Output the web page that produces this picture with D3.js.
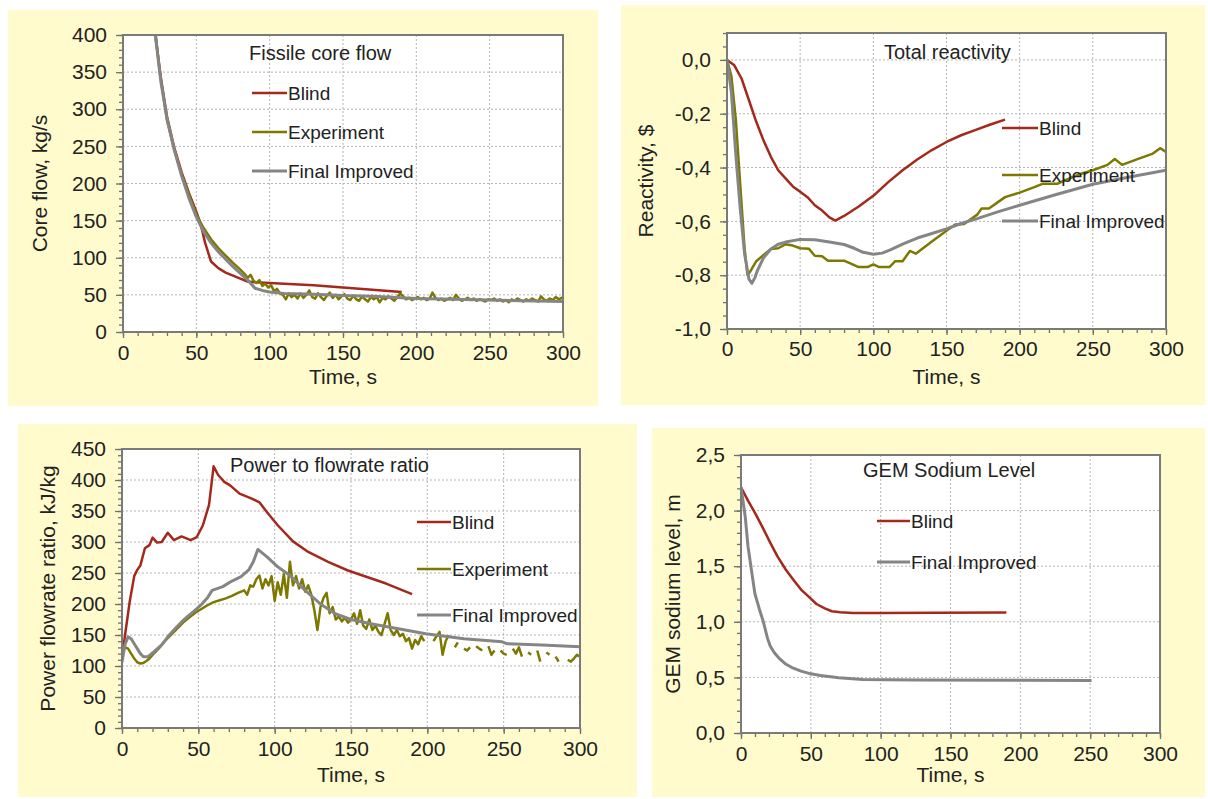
<!DOCTYPE html>
<html>
<head>
<meta charset="utf-8">
<script src="https://cdn.jsdelivr.net/npm/d3@7"></script>
<style>
  body { margin: 0; background: #fff; }
  svg { display: block; font-family: "Liberation Sans", Arial, sans-serif; }
  .tick text { fill: #222; }
</style>
</head>
<body>
<svg width="1208" height="799"></svg>
<script>
// ---- data: [time s, value] ----

// Fissile core flow, kg/s
const flowBlind = [[20, 445], [22, 400], [26, 340], [30, 290], [35, 248], [40, 215], [45, 187], [50, 162], [53, 145], [56, 120], [60, 95], [65, 86], [70, 80], [75, 76], [80, 72], [85, 68], [90, 67], [100, 66], [120, 64], [130, 63], [150, 60], [170, 57], [190, 54]];
const flowExp = [[20, 445], [25, 350], [30, 285], [35, 245], [40, 212], [45, 185], [50, 158], [55, 140], [60, 125], [65, 113], [70, 103], [75, 93], [80, 84], [83, 78], [85, 73], [87, 77], [89, 69], [91, 66], [93, 70], [95, 62], [97, 65], [99, 60], [101, 63], [103, 55], [105, 58], [107, 52], [109, 50], [111, 44], [113, 52], [115, 47], [117, 50], [119, 45], [121, 52], [123, 46], [125, 50], [127, 56], [129, 47], [131, 45], [133, 52], [135, 47], [137, 43], [139, 49], [141, 53], [143, 46], [145, 50], [147, 44], [149, 48], [151, 51], [153, 45], [155, 43], [157, 49], [159, 44], [161, 42], [163, 48], [165, 44], [167, 41], [169, 47], [171, 44], [173, 47], [175, 40], [177, 46], [179, 44], [181, 48], [183, 45], [185, 42], [187, 47], [189, 52], [191, 48], [193, 44], [195, 46], [197, 43], [199, 45], [201, 47], [203, 44], [205, 46], [207, 43], [209, 45], [211, 53], [213, 46], [215, 43], [217, 45], [219, 42], [221, 44], [223, 46], [225, 43], [227, 50], [229, 45], [231, 42], [233, 44], [235, 46], [237, 43], [239, 45], [241, 42], [243, 44], [245, 43], [247, 41], [249, 44], [251, 43], [253, 45], [255, 42], [257, 44], [259, 41], [261, 43], [263, 40], [265, 44], [267, 42], [269, 45], [271, 43], [273, 41], [275, 44], [277, 42], [279, 45], [281, 43], [283, 41], [285, 48], [287, 44], [289, 42], [291, 45], [293, 43], [295, 47], [297, 44], [299, 46], [300, 45]];
const flowFinal = [[20, 445], [22, 400], [26, 335], [30, 288], [35, 245], [40, 210], [45, 180], [50, 155], [55, 135], [60, 120], [65, 108], [70, 98], [75, 88], [80, 79], [85, 70], [90, 59], [95, 56], [100, 54], [110, 52], [130, 51], [150, 49], [170, 48], [200, 45], [250, 43], [300, 41]];

// Total reactivity, $
const reactBlind = [[0, 0], [5, -0.02], [10, -0.07], [15, -0.15], [20, -0.23], [25, -0.3], [30, -0.36], [35, -0.41], [40, -0.44], [45, -0.47], [50, -0.49], [55, -0.51], [60, -0.54], [65, -0.56], [70, -0.585], [74, -0.597], [80, -0.58], [90, -0.545], [100, -0.505], [110, -0.455], [120, -0.41], [130, -0.37], [140, -0.335], [150, -0.305], [160, -0.28], [170, -0.26], [180, -0.24], [190, -0.222]];
const reactExp = [[0, 0], [3, -0.06], [6, -0.22], [9, -0.46], [12, -0.7], [14, -0.8], [16, -0.785], [20, -0.748], [25, -0.725], [30, -0.703], [35, -0.7], [40, -0.685], [45, -0.69], [50, -0.7], [56, -0.702], [60, -0.728], [65, -0.73], [69, -0.746], [80, -0.746], [90, -0.77], [96, -0.77], [100, -0.76], [104, -0.77], [111, -0.77], [115, -0.748], [120, -0.748], [125, -0.71], [129, -0.72], [140, -0.675], [150, -0.635], [156, -0.612], [162, -0.61], [171, -0.575], [174, -0.552], [179, -0.552], [190, -0.51], [200, -0.493], [210, -0.473], [216, -0.46], [226, -0.46], [234, -0.44], [242, -0.423], [250, -0.41], [260, -0.39], [265, -0.368], [270, -0.39], [281, -0.368], [291, -0.348], [296, -0.328], [300, -0.342]];
const reactFinal = [[0, 0], [3, -0.12], [6, -0.35], [9, -0.55], [12, -0.72], [15, -0.815], [17, -0.83], [19, -0.81], [21, -0.78], [25, -0.735], [30, -0.703], [35, -0.685], [40, -0.677], [50, -0.667], [60, -0.668], [70, -0.677], [80, -0.686], [87, -0.7], [93, -0.715], [100, -0.722], [106, -0.718], [112, -0.705], [120, -0.685], [130, -0.662], [140, -0.645], [150, -0.628], [160, -0.608], [171, -0.59], [185, -0.565], [200, -0.54], [225, -0.5], [250, -0.462], [275, -0.435], [300, -0.41]];

// Power to flowrate ratio, kJ/kg
const ratioBlind = [[0, 112], [2, 150], [5, 203], [8, 245], [10, 255], [12, 262], [15, 290], [18, 295], [20, 307], [23, 299], [26, 300], [30, 315], [34, 303], [39, 309], [45, 303], [49, 308], [53, 327], [57, 360], [60, 422], [63, 408], [67, 397], [71, 391], [77, 378], [85, 370], [90, 364], [95, 348], [102, 327], [112, 301], [122, 284], [135, 268], [148, 254], [160, 244], [173, 233], [190, 216]];
const ratioExp = [[0, 118], [2, 130], [4, 128], [6, 120], [8, 112], [10, 106], [12, 104], [14, 105], [16, 108], [18, 112], [20, 118], [24, 128], [28, 140], [32, 150], [36, 160], [40, 170], [44, 178], [48, 186], [52, 192], [56, 198], [60, 203], [64, 206], [68, 209], [72, 213], [76, 218], [80, 222], [82, 215], [84, 230], [86, 228], [88, 240], [90, 246], [92, 225], [94, 240], [96, 230], [98, 245], [100, 205], [102, 235], [104, 215], [106, 248], [108, 210], [110, 268], [112, 230], [114, 245], [116, 225], [118, 240], [120, 220], [122, 230], [124, 215], [126, 190], [128, 158], [130, 195], [132, 210], [134, 218], [136, 185], [138, 195], [140, 175], [142, 180], [144, 172], [146, 178], [148, 170], [150, 175], [152, 185], [154, 168], [156, 190], [158, 165], [160, 160], [162, 175], [164, 158], [166, 165], [168, 155], [170, 150], [172, 168], [174, 185], [176, 158], [178, 150], [180, 158], [182, 148], [184, 152], [186, 140], [188, 145], [190, 128], [192, 142], [194, 135], [196, 148], [198, 140], [200, null], [204, 140], [206, 148], [208, 155], [210, 118], [212, 140], [214, 150], [216, null], [218, 130], [220, 138], [222, null], [224, 128], [226, 125], [228, 130], [230, null], [232, 132], [234, 128], [236, 125], [238, null], [240, 132], [242, 118], [244, 125], [246, null], [248, 125], [250, 120], [252, 118], [254, null], [256, 128], [258, 120], [260, 130], [262, 115], [264, null], [266, 122], [268, 118], [270, null], [272, 125], [274, 107], [276, null], [278, 122], [280, 118], [282, null], [284, 115], [286, 107], [288, null], [292, 110], [294, 107], [296, 112], [298, 118], [300, 115]];
const ratioFinal = [[0, 106], [2, 135], [4, 147], [6, 144], [8, 136], [10, 128], [12, 120], [14, 115], [17, 115], [21, 123], [26, 134], [31, 150], [35, 161], [39, 171], [43, 180], [47, 188], [52, 199], [56, 210], [59, 222], [66, 228], [72, 237], [78, 244], [83, 255], [86, 268], [89, 288], [95, 276], [102, 260], [110, 246], [120, 222], [130, 200], [140, 184], [150, 175], [163, 168], [181, 160], [199, 152], [224, 144], [249, 139], [252, 136], [275, 134], [300, 131]];

// GEM sodium level, m
const levelBlind = [[0, 2.21], [5, 2.09], [10, 1.98], [15, 1.86], [21, 1.71], [26, 1.59], [32, 1.47], [38, 1.37], [43, 1.29], [49, 1.22], [54, 1.16], [60, 1.12], [65, 1.095], [71, 1.085], [80, 1.08], [100, 1.08], [140, 1.082], [190, 1.083]];
const levelFinal = [[0, 2.21], [3, 1.95], [5, 1.68], [8, 1.42], [10, 1.25], [13, 1.12], [16, 1.0], [19, 0.85], [21, 0.78], [24, 0.72], [27, 0.676], [32, 0.62], [37, 0.585], [43, 0.556], [50, 0.532], [57, 0.517], [70, 0.496], [87, 0.482], [125, 0.476], [200, 0.475], [251, 0.472]];

const seriesNames = ['Blind', 'Experiment', 'Final Improved'];
const xTicks = [0, 50, 100, 150, 200, 250, 300];

// ---- styling ----
const colors = { 'Blind': '#a3291c', 'Experiment': '#7d7800', 'Final Improved': '#858585' };
const widths = { 'Blind': 2.5, 'Experiment': 2.5, 'Final Improved': 3 };

const comma = d3.formatLocale({ decimal: ',', thousands: '.', grouping: [3], currency: ['', ''], minus: '-' });

const panels = [
  {
    bg: [8, 10, 590, 396], plot: [123, 35, 563, 332],
    yDomain: [0, 400], yStep: 50, yMinor: 10, yFormat: d3.format('d'),
    yTitle: 'Core flow, kg/s', yTitleX: 40, xLabelDy: 23, xTitleY: 384,
    title: 'Fissile core flow', titleX: 249, titleY: 60,
    legend: { x1: 252, x2: 287, ys: [93, 132, 171] },
    series: [['Blind', flowBlind], ['Experiment', flowExp], ['Final Improved', flowFinal]]
  },
  {
    bg: [621, 5, 584, 400], plot: [727, 33, 1166, 329],
    yDomain: [-1, 0.1], yStep: 0.2, yMinor: 0.05, yFormat: comma.format('.1f'), yTickVals: [-1, -0.8, -0.6, -0.4, -0.2, 0],
    yTitle: 'Reactivity, $', yTitleX: 646, xLabelDy: 22, xTitleY: 384,
    title: 'Total reactivity', titleX: 884, titleY: 59,
    legend: { x1: 1002, x2: 1038, ys: [128, 175, 221] },
    series: [['Blind', reactBlind], ['Experiment', reactExp], ['Final Improved', reactFinal]]
  },
  {
    bg: [18, 424, 619, 373], plot: [122, 449, 580, 728],
    yDomain: [0, 450], yStep: 50, yMinor: 10, yFormat: d3.format('d'),
    yTitle: 'Power flowrate ratio, kJ/kg', yTitleX: 48, xLabelDy: 23, xTitleY: 782,
    title: 'Power to flowrate ratio', titleX: 230, titleY: 472,
    legend: { x1: 417, x2: 451, ys: [522, 569, 615] },
    series: [['Blind', ratioBlind], ['Experiment', ratioExp], ['Final Improved', ratioFinal]]
  },
  {
    bg: [652, 428, 553, 369], plot: [741, 455, 1160, 733],
    yDomain: [0, 2.5], yStep: 0.5, yMinor: 0.1, yFormat: comma.format('.1f'),
    yTitle: 'GEM sodium level, m', yTitleX: 673, xLabelDy: 23, xTitleY: 782,
    title: 'GEM Sodium Level', titleX: 863, titleY: 477,
    legend: { x1: 877, x2: 910, ys: [521, 562] },
    series: [['Blind', levelBlind], ['Final Improved', levelFinal]]
  }
];

const svg = d3.select('svg');
const defs = svg.append('defs');

panels.forEach((p, i) => {
  const [x0, y0, x1, y1] = p.plot;

  // panel background
  svg.append('rect')
    .attr('x', p.bg[0]).attr('y', p.bg[1])
    .attr('width', p.bg[2]).attr('height', p.bg[3])
    .attr('fill', '#fffbcc');

  const x = d3.scaleLinear().domain([0, 300]).range([x0, x1]);
  const y = d3.scaleLinear().domain(p.yDomain).range([y1, y0]);

  const yMajor = p.yTickVals || d3.range(p.yDomain[0], p.yDomain[1] + 1e-9, p.yStep);
  const yMinorVals = d3.range(0, Math.round((p.yDomain[1] - p.yDomain[0]) / p.yMinor) + 1)
    .map(k => p.yDomain[0] + k * p.yMinor);
  const xMinorVals = d3.range(0, 31).map(k => k * 10);

  // plot area
  svg.append('rect')
    .attr('x', x0).attr('y', y0)
    .attr('width', x1 - x0).attr('height', y1 - y0)
    .attr('fill', '#fff');

  // dotted grid
  const grid = svg.append('g').attr('stroke', '#b4b4b4').attr('stroke-width', 1).attr('stroke-dasharray', '2,2');
  grid.selectAll('.gx').data(xTicks.slice(1, -1)).enter().append('line')
    .attr('x1', d => x(d)).attr('x2', d => x(d)).attr('y1', y0).attr('y2', y1);
  grid.selectAll('.gy').data(yMajor.filter(v => v > p.yDomain[0] + 1e-9)).enter().append('line')
    .attr('x1', x0).attr('x2', x1).attr('y1', d => y(d)).attr('y2', d => y(d));

  // axes: minor then major ticks
  const yAxisMinor = d3.axisLeft(y).tickValues(yMinorVals).tickSize(4).tickFormat('');
  const yAxis = d3.axisLeft(y).tickValues(yMajor).tickSize(7).tickPadding(9).tickFormat(p.yFormat);
  const xAxisMinor = d3.axisBottom(x).tickValues(xMinorVals).tickSize(4).tickFormat('');
  const xAxis = d3.axisBottom(x).tickValues(xTicks).tickSize(6).tickPadding(p.xLabelDy - 16);

  [yAxisMinor, yAxis].forEach(a => {
    const g = svg.append('g').attr('transform', `translate(${x0},0)`).call(a);
    g.select('.domain').remove();
    g.selectAll('line').attr('stroke', '#707070').attr('stroke-width', 1.3);
    g.selectAll('text').attr('font-size', 21).attr('font-family', 'Liberation Sans, Arial, sans-serif');
  });
  [xAxisMinor, xAxis].forEach(a => {
    const g = svg.append('g').attr('transform', `translate(0,${y1})`).call(a);
    g.select('.domain').remove();
    g.selectAll('line').attr('stroke', '#707070').attr('stroke-width', 1.3);
    g.selectAll('text').attr('font-size', 21).attr('font-family', 'Liberation Sans, Arial, sans-serif');
  });

  // clip and lines
  defs.append('clipPath').attr('id', 'clip' + i)
    .append('rect').attr('x', x0).attr('y', y0).attr('width', x1 - x0).attr('height', y1 - y0);

  const line = d3.line()
    .defined(d => d[1] !== null)
    .x(d => x(d[0]))
    .y(d => y(d[1]));

  const lines = svg.append('g').attr('clip-path', `url(#clip${i})`);
  p.series.forEach(([name, data]) => {
    lines.append('path')
      .datum(data)
      .attr('d', line)
      .attr('fill', 'none')
      .attr('stroke', colors[name])
      .attr('stroke-width', widths[name])
      .attr('stroke-linejoin', 'round');
  });

  // plot border
  svg.append('rect')
    .attr('x', x0).attr('y', y0)
    .attr('width', x1 - x0).attr('height', y1 - y0)
    .attr('fill', 'none')
    .attr('stroke', '#7a7a7a')
    .attr('stroke-width', 2);

  // titles
  svg.append('text')
    .attr('x', p.titleX).attr('y', p.titleY)
    .attr('font-size', 20).attr('fill', '#222')
    .text(p.title);

  svg.append('text')
    .attr('x', (x0 + x1) / 2).attr('y', p.xTitleY)
    .attr('text-anchor', 'middle')
    .attr('font-size', 21).attr('fill', '#222')
    .text('Time, s');

  svg.append('text')
    .attr('transform', `translate(${p.yTitleX},${(y0 + y1) / 2}) rotate(-90)`)
    .attr('text-anchor', 'middle')
    .attr('dy', '0.35em')
    .attr('font-size', 21).attr('fill', '#222')
    .text(p.yTitle);

  // legend
  p.series.forEach(([name], k) => {
    const ly = p.legend.ys[k];
    svg.append('line')
      .attr('x1', p.legend.x1).attr('x2', p.legend.x2)
      .attr('y1', ly).attr('y2', ly)
      .attr('stroke', colors[name])
      .attr('stroke-width', widths[name]);
    svg.append('text')
      .attr('x', p.legend.x2 + 1).attr('y', ly)
      .attr('dy', '0.35em')
      .attr('font-size', 19).attr('fill', '#222')
      .text(name);
  });
});
</script>
</body>
</html>
